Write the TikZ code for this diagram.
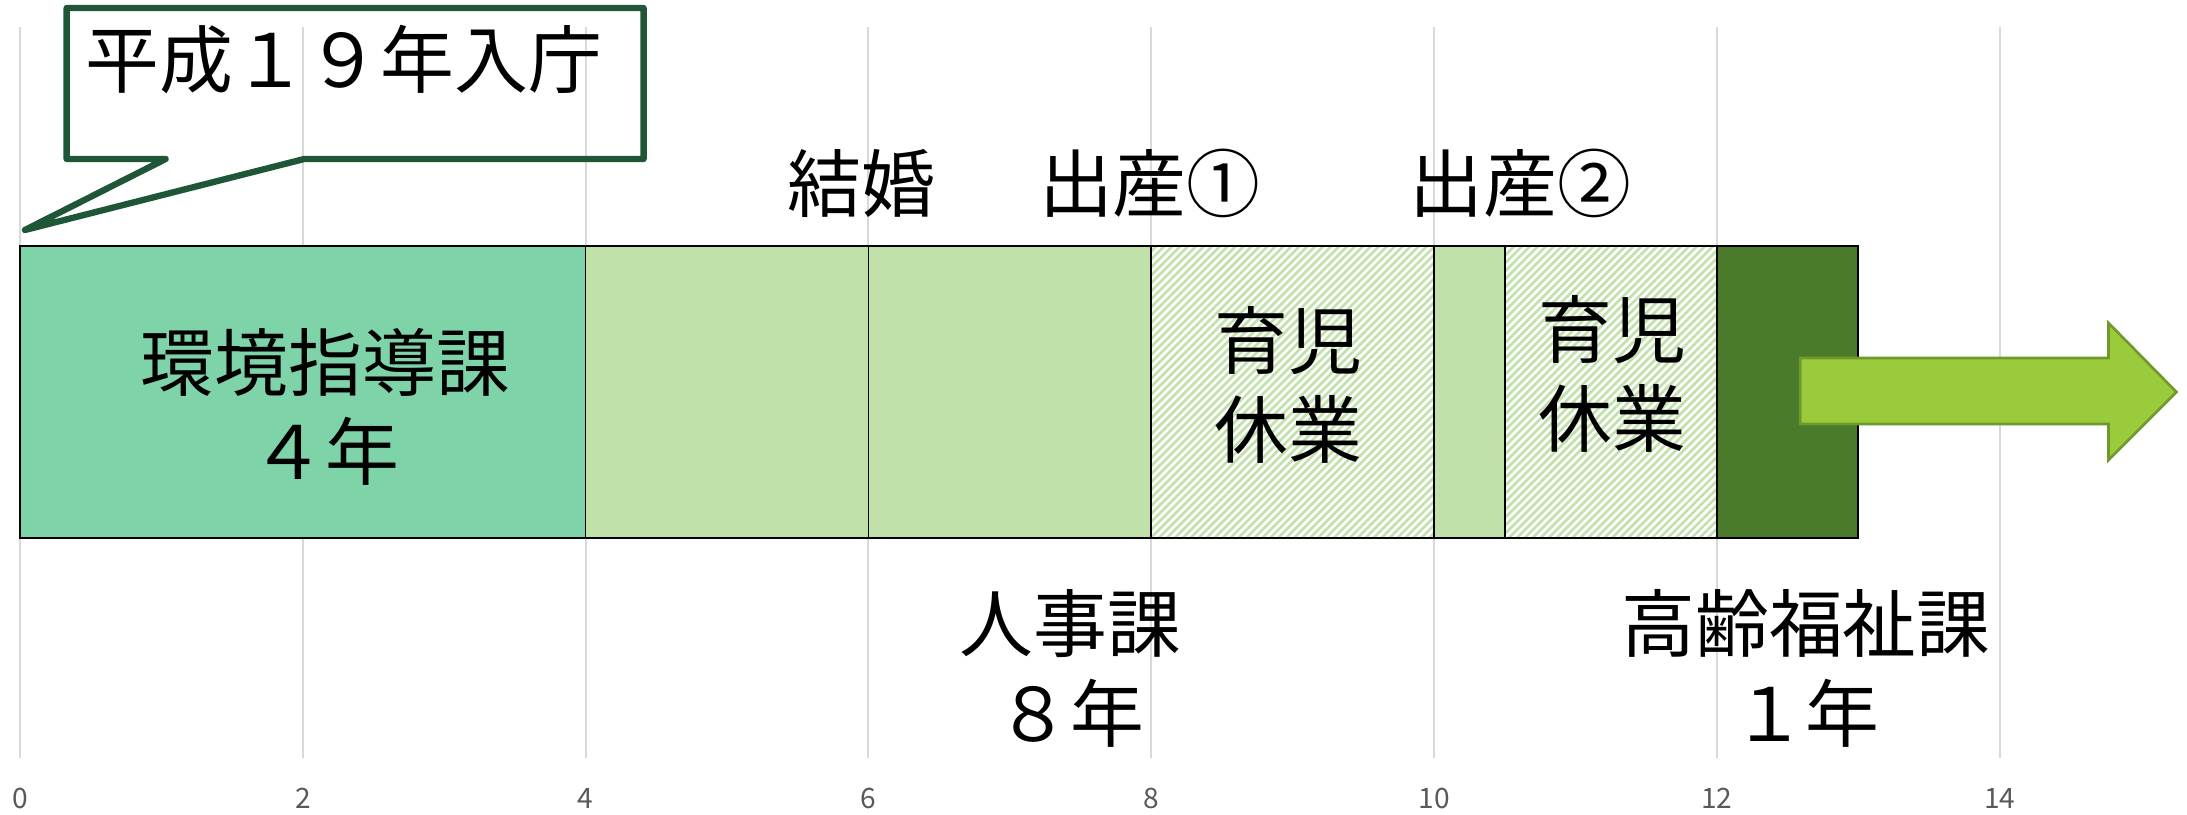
\documentclass[tikz,border=0pt]{standalone}
\usepackage{fontspec}
\newfontfamily\jp{Noto Sans CJK JP}
\usetikzlibrary{patterns.meta}
\definecolor{mint}{HTML}{7FD3A9}
\definecolor{pale}{HTML}{C0E1A9}
\definecolor{deep}{HTML}{4A7B2A}
\definecolor{lime}{HTML}{9ACB3C}
\definecolor{limeedge}{HTML}{6F9A2A}
\definecolor{callout}{HTML}{1F5638}
\definecolor{gridgray}{HTML}{D9D9D9}
\definecolor{tickgray}{HTML}{595959}
\begin{document}
\begin{tikzpicture}[x=1.414cm,y=1cm,
  lbl/.style={font=\jp\fontsize{21}{25.5}\selectfont,align=center,inner sep=0pt},
  ticklbl/.style={font=\jp\fontsize{8}{9}\selectfont,text=tickgray,inner sep=0pt},
  seg/.style={draw=black,line width=0.5pt},
  hatch/.style={seg,pattern={Lines[angle=45,distance=1.6pt,line width=0.75pt]},pattern color=pale}]
\useasboundingbox (-0.1414,0) rectangle (15.325,8.14);
\foreach \x in {0,2,...,14} {
	\draw[gridgray,line width=0.6pt] (\x,0.56) -- (\x,7.87);
	\node[ticklbl] (t\x) at (\x,0.16) {\x};
}
\coordinate (B0) at (0,2.76);
\coordinate (T13) at (13,5.68);
\draw[seg,fill=mint] (B0) rectangle (4,5.68);
\draw[seg,fill=pale] (4,2.76) rectangle (6,5.68);
\draw[seg,fill=pale] (6,2.76) rectangle (8,5.68);
\draw[hatch] (8,2.76) rectangle (10,5.68);
\draw[seg,fill=pale] (10,2.76) rectangle (10.5,5.68);
\draw[hatch] (10.5,2.76) rectangle (12,5.68);
\draw[seg,fill=deep] (12,2.76) rectangle (T13);
\draw[fill=lime,draw=limeedge,line width=0.75pt,line join=miter] (12.59,3.90) -- (14.77,3.90) -- (14.77,3.54) -- (15.25,4.22) -- (14.77,4.91) -- (14.77,4.56) -- (12.59,4.56) -- cycle;
\draw[callout,line width=1.8pt,line join=round] (0.33,8.06) -- (4.41,8.06) -- (4.41,6.55) -- (2.01,6.55) -- (0.035,5.84) -- (1.03,6.55) -- (0.33,6.55) -- cycle;
\node[lbl] (entry) at (2.29,7.54) {平成１９年入庁};
\node[lbl] (kankyo) at (2.16,4.07) {環境指導課\\４年};
\node[lbl] (ikuji1) at (8.97,4.29) {育児\\休業};
\node[lbl] (ikuji2) at (11.26,4.40) {育児\\休業};
\node[lbl] (kekkon) at (5.95,6.31) {結婚};
\node[lbl] (shussan1) at (7.99,6.31) {出産①};
\node[lbl] (shussan2) at (10.61,6.31) {出産②};
\node[lbl] (jinji) at (7.43,1.455) {人事課\\８年};
\node[lbl] (korei) at (12.63,1.455) {高齢福祉課\\１年};
\end{tikzpicture}
\end{document}
